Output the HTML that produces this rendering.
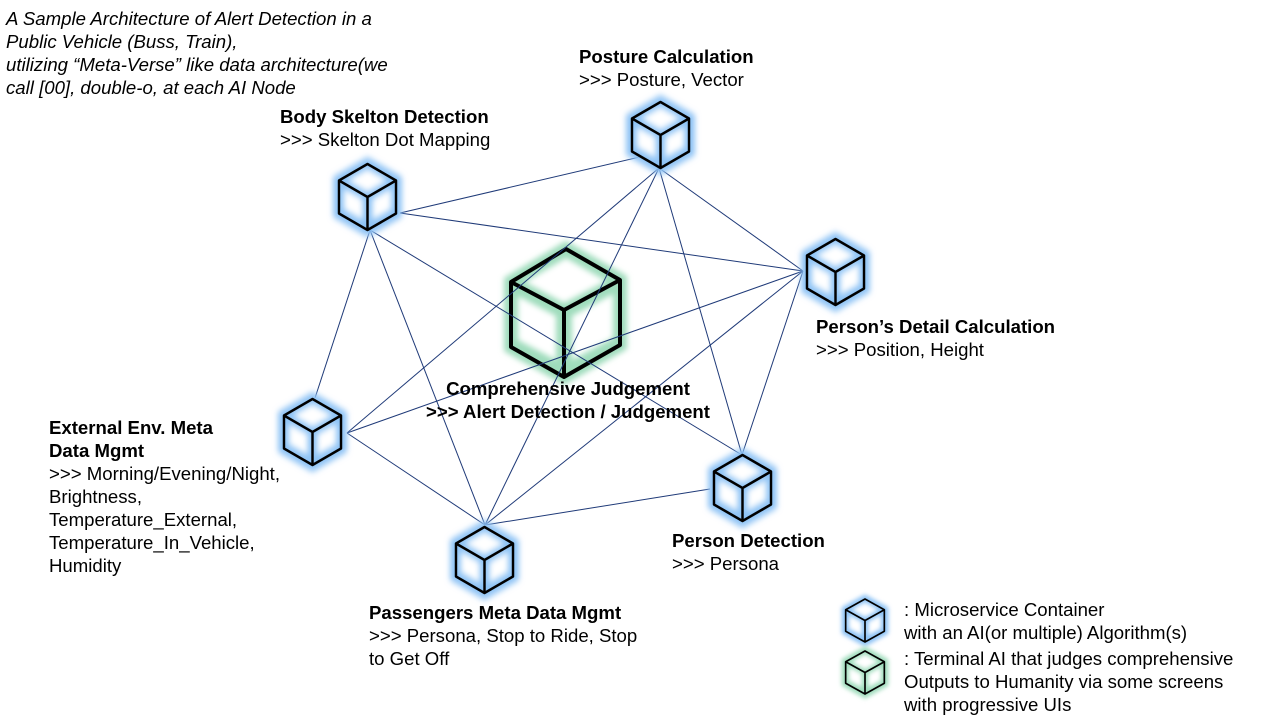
<!DOCTYPE html>
<html><head><meta charset="utf-8"><style>
body{margin:0;background:#fff;width:1262px;height:726px;overflow:hidden;font-family:"Liberation Sans",sans-serif;}
.t{position:absolute;font-size:18.6px;line-height:23px;color:#000;white-space:nowrap;}
b{font-weight:bold;}
</style></head><body>
<svg width="1262" height="726" style="position:absolute;left:0;top:0">
<defs>
<filter id="gb" x="-50%" y="-50%" width="200%" height="200%"><feGaussianBlur stdDeviation="3"/></filter>
<symbol id="c" viewBox="0 0 60 64" overflow="visible" preserveAspectRatio="none">
 <path d="M30,0 L59,16 L59,48 L30,64 L1,48 L1,16 Z" fill="#8ec3f5" stroke="#8ec3f5" stroke-width="12" filter="url(#gb)"/>
 <path d="M30,5 L50,16 L30,27 L10,16 Z" fill="#fff" filter="url(#gb)"/>
 <path d="M6,24 L25,34 L25,54 L6,44 Z" fill="#fff" filter="url(#gb)"/>
 <path d="M54,24 L35,34 L35,54 L54,44 Z" fill="#fff" filter="url(#gb)"/>
 <path d="M30,0 L59,16 L59,48 L30,64 L1,48 L1,16 Z M1,16 L30,32 L59,16 M30,32 L30,64" fill="none" stroke="#000" stroke-width="2.5" stroke-linejoin="round"/>
</symbol>
<symbol id="g" viewBox="0 0 60 64" overflow="visible" preserveAspectRatio="none">
 <path d="M30,0 L59,16 L59,48 L30,64 L1,48 L1,16 Z" fill="#9fdcbc" stroke="#9fdcbc" stroke-width="12" filter="url(#gb)"/>
 <path d="M30,5 L50,16 L30,27 L10,16 Z" fill="#fff" filter="url(#gb)"/>
 <path d="M6,24 L25,34 L25,54 L6,44 Z" fill="#fff" filter="url(#gb)"/>
 <path d="M54,24 L35,34 L35,54 L54,44 Z" fill="#fff" filter="url(#gb)"/>
 <path d="M30,0 L59,16 L59,48 L30,64 L1,48 L1,16 Z M1,16 L30,32 L59,16 M30,32 L30,64" fill="none" stroke="#000" stroke-width="2.5" stroke-linejoin="round"/>
</symbol>
</defs>
<g>
 <path d="M566,249 L620,280 L620,345 L564,377 L511,347 L511,282 Z" fill="#9fdcbc" stroke="#9fdcbc" stroke-width="14" filter="url(#gb)"/>
 <path d="M566,258 L606,281 L564,303 L525,282 Z" fill="#fff" filter="url(#gb)"/>
 <path d="M518,296 L556,316 L556,360 L518,340 Z" fill="#fff" filter="url(#gb)"/>
 <path d="M613,294 L572,316 L572,360 L613,338 Z" fill="#fff" filter="url(#gb)"/>
 <path d="M566,249 L620,280 L620,345 L564,377 L511,347 L511,282 Z M511,282 L564,310 L620,280 M564,310 L564,377" fill="none" stroke="#000" stroke-width="4" stroke-linejoin="round"/>
</g>
<g stroke="#1f3a78" stroke-width="1" fill="none">
<line x1="400" y1="213" x2="657" y2="153"/>
<line x1="400" y1="213" x2="803" y2="271"/>
<line x1="370" y1="230" x2="315" y2="398"/>
<line x1="370" y1="230" x2="485" y2="525"/>
<line x1="370" y1="230" x2="742" y2="455"/>
<line x1="659" y1="168" x2="803" y2="271"/>
<line x1="659" y1="168" x2="742" y2="455"/>
<line x1="659" y1="168" x2="347" y2="433"/>
<line x1="659" y1="168" x2="485" y2="525"/>
<line x1="803" y1="271" x2="742" y2="455"/>
<line x1="803" y1="271" x2="347" y2="433"/>
<line x1="803" y1="271" x2="485" y2="525"/>
<line x1="347" y1="433" x2="485" y2="525"/>
<line x1="485" y1="525" x2="710" y2="489"/>
</g>
<use href="#c" x="338" y="164" width="59" height="66"/>
<use href="#c" x="631" y="102" width="59" height="66"/>
<use href="#c" x="806" y="239" width="59" height="66"/>
<use href="#c" x="283" y="399" width="59" height="66"/>
<use href="#c" x="713" y="455" width="59" height="66"/>
<use href="#c" x="455" y="527" width="59" height="66"/>
<use href="#c" x="845" y="599" width="40" height="43"/>
<use href="#g" x="845" y="651" width="40" height="43"/>
</svg>
<div class="t" style="left:6px;top:7px;font-style:italic">A Sample Architecture of Alert Detection in a<br>Public Vehicle (Buss, Train),<br>utilizing “Meta-Verse” like data architecture(we<br>call [00], double-o, at each AI Node</div>
<div class="t" style="left:579px;top:45px"><b>Posture Calculation</b><br>&gt;&gt;&gt; Posture, Vector</div>
<div class="t" style="left:280px;top:105px"><b>Body Skelton Detection</b><br>&gt;&gt;&gt; Skelton Dot Mapping</div>
<div class="t" style="left:816px;top:315px"><b>Person’s Detail Calculation</b><br>&gt;&gt;&gt; Position, Height</div>
<div class="t" style="left:368px;width:400px;top:377px;text-align:center"><b>Comprehensive Judgement<br>&gt;&gt;&gt; Alert Detection / Judgement</b></div>
<div class="t" style="left:49px;top:416px"><b>External Env. Meta<br>Data Mgmt</b><br>&gt;&gt;&gt; Morning/Evening/Night,<br>Brightness,<br>Temperature_External,<br>Temperature_In_Vehicle,<br>Humidity</div>
<div class="t" style="left:672px;top:529px"><b>Person Detection</b><br>&gt;&gt;&gt; Persona</div>
<div class="t" style="left:369px;top:601px"><b>Passengers Meta Data Mgmt</b><br>&gt;&gt;&gt; Persona, Stop to Ride, Stop<br>to Get Off</div>
<div class="t" style="left:904px;top:598px">: Microservice Container<br>with an AI(or multiple) Algorithm(s)</div>
<div class="t" style="left:904px;top:647px">: Terminal AI that judges comprehensive<br>Outputs to Humanity via some screens<br>with progressive UIs</div>
</body></html>
